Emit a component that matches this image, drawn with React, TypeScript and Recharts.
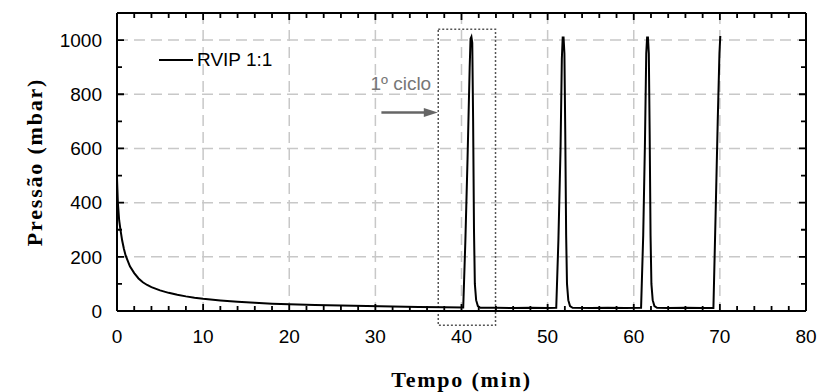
import React from 'react';
import {
  LineChart,
  Line,
  XAxis,
  YAxis,
  CartesianGrid,
  Legend,
  ReferenceArea,
  ReferenceLine,
} from 'recharts';

// tempo (min) e pressão (mbar)
const tempo = [
  0, 0.1, 0.25, 0.4, 0.6, 0.8, 1.0, 1.5, 2.0, 2.5, 3.0, 3.5, 4.0, 5.0, 6.0, 7.0, 8.0, 9.0, 10,
  12, 14, 16, 18, 20, 23, 26, 29, 32, 35, 38, 40.2,
  40.45, 40.7, 40.95, 41.05, 41.15, 41.25, 41.35, 41.45, 41.55, 41.7, 41.9, 42.2,
  44, 46, 48, 50, 51.0,
  51.25, 51.5, 51.65, 51.75, 51.85, 51.95, 52.05, 52.15, 52.25, 52.4, 52.6, 52.9,
  55, 57, 59, 60.85,
  61.1, 61.3, 61.45, 61.55, 61.65, 61.75, 61.85, 61.95, 62.05, 62.2, 62.4, 62.7,
  64, 66, 68, 69.25,
  69.5, 69.75, 69.95, 70.05,
];

const pressao = [
  490, 400, 335, 300, 260, 230, 205, 165, 140, 120, 106, 96, 88, 76, 67, 60, 54, 49, 45,
  39, 34, 30, 27, 25, 22, 20, 18, 17, 15, 14, 13,
  260, 560, 900, 1005, 1012, 990, 700, 300, 100, 40, 18, 12,
  12, 11, 12, 11, 12,
  260, 600, 930, 1010, 1010, 950, 650, 280, 100, 40, 18, 12,
  11, 12, 11, 12,
  280, 620, 950, 1010, 1010, 950, 650, 280, 100, 40, 18, 12,
  11, 12, 11, 11,
  350, 700, 950, 1015,
];

const xTicks = [0, 10, 20, 30, 40, 50, 60, 70, 80];
const xMinorTicks = [
  2, 4, 6, 8, 12, 14, 16, 18, 22, 24, 26, 28, 32, 34, 36, 38,
  42, 44, 46, 48, 52, 54, 56, 58, 62, 64, 66, 68, 72, 74, 76, 78,
];
const yTicks = [0, 200, 400, 600, 800, 1000];
const yMinorTicks = [100, 300, 500, 700, 900];

const serieNome = 'RVIP 1:1';
const cicloTexto = '1º ciclo';
const xLabel = 'Tempo (min)';
const yLabel = 'Pressão (mbar)';

const data = tempo.map((t, i) => ({ t, p: pressao[i] }));

const sans = '"Liberation Sans", Arial, sans-serif';
const serif = '"Liberation Serif", "Times New Roman", serif';
const tickFont = { fontFamily: sans, fontSize: 19, fill: '#000' };
const axisLine = { stroke: '#000', strokeWidth: 2 };
const labelStyle = { fontFamily: serif, fontSize: 22, fontWeight: 'bold', fill: '#000', letterSpacing: 1.8 };

// inward tick marks at both ends of a reference line
const tickMarks = (len: number) => (props: any) => {
  const { x1, y1, x2, y2 } = props;
  const vertical = Math.abs(x1 - x2) < Math.abs(y1 - y2);
  let d: string;
  if (vertical) {
    const lo = Math.max(y1, y2);
    const hi = Math.min(y1, y2);
    d = `M${x1},${lo}L${x1},${lo - len}M${x1},${hi}L${x1},${hi + len}`;
  } else {
    const l = Math.min(x1, x2);
    const r = Math.max(x1, x2);
    d = `M${l},${y1}L${l + len},${y1}M${r},${y1}L${r - len},${y1}`;
  }
  return <path d={d} stroke="#000" strokeWidth={1.8} fill="none" />;
};

function LegendBox() {
  return (
    <div style={{ display: 'flex', alignItems: 'center', fontFamily: sans, fontSize: 19, color: '#000' }}>
      <svg width={36} height={4} style={{ marginRight: 2 }}>
        <line x1={0} y1={2} x2={34} y2={2} stroke="#000" strokeWidth={2} />
      </svg>
      <span>{serieNome}</span>
    </div>
  );
}

function Arrow(props: any) {
  const { x1, y1, x2 } = props;
  const head = 14;
  return (
    <g>
      <text x={x1 - 11} y={y1 - 22} fontFamily={sans} fontSize={19} fill="#777">
        {cicloTexto}
      </text>
      <line x1={x1} y1={y1} x2={x2 - head + 2} y2={y1} stroke="#666" strokeWidth={2.5} />
      <polygon points={`${x2},${y1} ${x2 - head},${y1 - 4.5} ${x2 - head},${y1 + 4.5}`} fill="#666" />
    </g>
  );
}

export default function App() {
  return (
    <div style={{ position: 'absolute', left: 0, top: 0, width: 818, height: 392, background: '#fff' }}>
      <LineChart width={818} height={392} data={data} margin={{ top: 13, right: 12, bottom: 0, left: 0 }}>
        <CartesianGrid stroke="#c8c8c8" strokeWidth={1.5} strokeDasharray="11 6" fill="none" />
        <XAxis dataKey="t" type="number" domain={[0, 80]} ticks={xTicks} height={81}
          stroke="#000" axisLine={axisLine} tickLine={false} tickSize={0} tickMargin={19} tick={tickFont}
          label={{ value: xLabel, position: 'insideBottom', offset: 5, style: labelStyle }} />
        <YAxis type="number" domain={[0, 1100]} ticks={yTicks} width={117}
          stroke="#000" axisLine={axisLine} tickLine={false} tickSize={0} tickMargin={15} tick={tickFont}
          label={{ value: yLabel, angle: -90, position: 'insideLeft', offset: 34,
            style: { ...labelStyle, textAnchor: 'middle' } }} />
        {/* tick marks */}
        {xTicks.map((v) => (
          <ReferenceLine key={'xt' + v} x={v} ifOverflow="visible" shape={tickMarks(7)} />
        ))}
        {xMinorTicks.map((v) => (
          <ReferenceLine key={'xm' + v} x={v} ifOverflow="visible" shape={tickMarks(5)} />
        ))}
        {yTicks.map((v) => (
          <ReferenceLine key={'yt' + v} y={v} ifOverflow="visible" shape={tickMarks(7)} />
        ))}
        {yMinorTicks.map((v) => (
          <ReferenceLine key={'ym' + v} y={v} ifOverflow="visible" shape={tickMarks(5)} />
        ))}
        {/* frame: top and right */}
        <ReferenceLine y={1100} stroke="#000" strokeWidth={2} ifOverflow="visible" />
        <ReferenceLine x={80} stroke="#000" strokeWidth={2} ifOverflow="visible" />
        <ReferenceArea x1={37.3} x2={43.95} y1={-53} y2={1040} ifOverflow="visible"
          fill="none" stroke="#555" strokeWidth={1.5} strokeDasharray="2 2" />
        <ReferenceLine segment={[{ x: 30.7, y: 733 }, { x: 37.25, y: 733 }]} ifOverflow="visible" shape={Arrow} />
        <Legend layout="vertical" align="center" verticalAlign="middle" content={LegendBox}
          wrapperStyle={{ left: 159, top: 49, width: 'auto', height: 'auto' }} />
        <Line dataKey="p" type="linear" stroke="#000" strokeWidth={2} dot={false} isAnimationActive={false}
          legendType="line" name={serieNome} />
      </LineChart>
    </div>
  );
}
